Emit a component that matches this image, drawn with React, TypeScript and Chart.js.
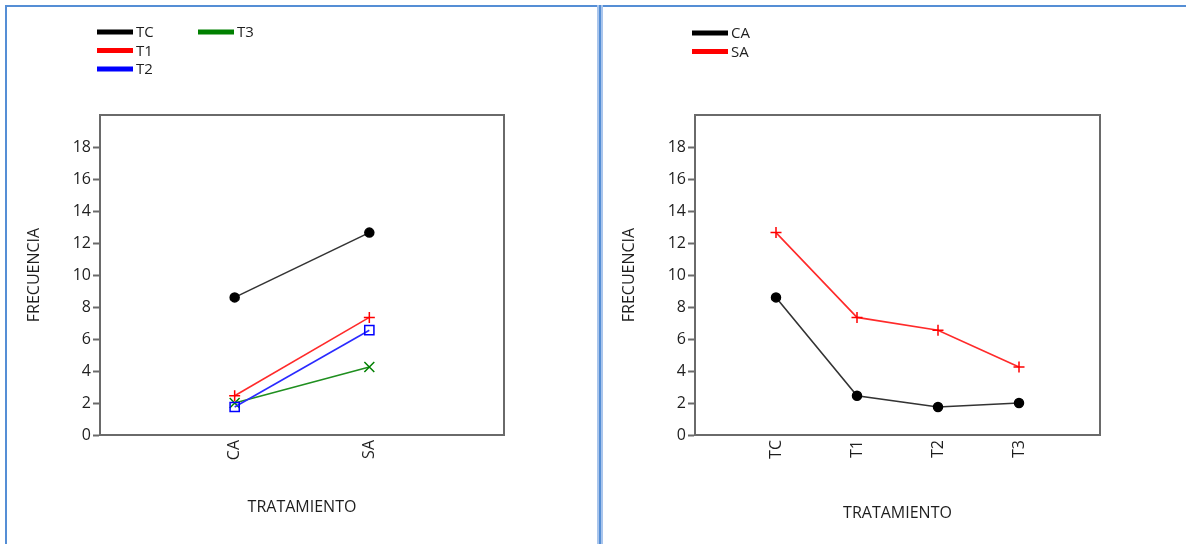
import React, { useEffect, useRef } from 'react';
import { Chart, registerables } from 'chart.js';

Chart.register(...registerables);

// ---------- data ----------
const leftCategories = ['CA', 'SA'];
const leftSeriesNames = ['TC', 'T1', 'T2', 'T3'];
const tcByCondition = [8.6, 12.65];
const t1ByCondition = [2.45, 7.35];
const t2ByCondition = [1.75, 6.55];
const t3ByCondition = [2.0, 4.25];

const rightCategories = ['TC', 'T1', 'T2', 'T3'];
const rightSeriesNames = ['CA', 'SA'];
const caByTreatment = [8.6, 2.45, 1.75, 2.0];
const saByTreatment = [12.65, 7.35, 6.55, 4.25];

const yTickValues = [0, 2, 4, 6, 8, 10, 12, 14, 16, 18];
const yMin = 0;
const yMax = 20;

const yTitle = 'FRECUENCIA';
const xTitle = 'TRATAMIENTO';

// ---------- styles ----------
const FONT = '"Open Sans", "Noto Sans", sans-serif';
const TEXT = '#1e1e1e';
const AXIS = '#6a6a6a';

const legendColorsLeft = ['#000000', '#ff0000', '#0000ff', '#008000'];
const lineColorsLeft = ['#333333', '#ff2a2a', '#2a2aff', '#1f8f1f'];
const markerStylesLeft = ['circle', 'cross', 'rect', 'crossRot'];
const markerRadiiLeft = [4.5, 5.5, 6.5, 7];
const markerFillsLeft = ['#000000', 'rgba(0,0,0,0)', 'rgba(0,0,0,0)', 'rgba(0,0,0,0)'];

const legendColorsRight = ['#000000', '#ff0000'];
const lineColorsRight = ['#333333', '#ff2a2a'];
const markerStylesRight = ['circle', 'cross'];
const markerRadiiRight = [4.5, 5.5];
const markerFillsRight = ['#000000', 'rgba(0,0,0,0)'];

const panelLegend = {
  id: 'panelLegend',
  afterDraw(chart: any, _args: any, opts: any) {
    const { ctx } = chart;
    ctx.save();
    ctx.font = `15px ${FONT}`;
    ctx.textBaseline = 'middle';
    ctx.textAlign = 'left';
    chart.data.datasets.forEach((ds: any, i: number) => {
      const col = Math.floor(i / opts.rows);
      const row = i % opts.rows;
      const x = opts.x + col * opts.colGap;
      const y = opts.y + row * opts.rowGap;
      ctx.strokeStyle = ds.legendColor;
      ctx.lineWidth = 5;
      ctx.lineCap = 'butt';
      ctx.beginPath();
      ctx.moveTo(x, y);
      ctx.lineTo(x + 36, y);
      ctx.stroke();
      ctx.fillStyle = TEXT;
      ctx.fillText(ds.label, x + 39, y + 1);
    });
    ctx.restore();
  },
};

const boxPlugin = {
  id: 'plotBox',
  beforeDatasetsDraw(chart: any) {
    const { ctx, chartArea } = chart;
    ctx.save();
    ctx.strokeStyle = AXIS;
    ctx.lineWidth = 2;
    ctx.strokeRect(
      chartArea.left,
      chartArea.top,
      chartArea.right - chartArea.left,
      chartArea.bottom - chartArea.top
    );
    ctx.restore();
  },
};

function buildConfig(p: {
  categories: string[];
  names: string[];
  series: number[][];
  legendColors: string[];
  lineColors: string[];
  markerStyles: string[];
  markerRadii: number[];
  markerFills: string[];
  xMax: number;
  yWidth: number;
  xHeight: number;
  padRight: number;
  padTop: number;
  yTitlePad: number;
  xTitlePad: number;
  legend: any;
}) {
  return {
    type: 'line',
    data: {
      datasets: p.names.map((name, i) => ({
        label: name,
        legendColor: p.legendColors[i],
        data: p.series[i].map((v, j) => ({ x: j + 1, y: v })),
        borderColor: p.lineColors[i],
        borderWidth: 1.6,
        pointStyle: p.markerStyles[i],
        pointRadius: p.markerRadii[i],
        pointBackgroundColor: p.markerFills[i],
        pointBorderColor: p.legendColors[i],
        pointBorderWidth: 1.5,
        tension: 0,
        fill: false,
      })),
    },
    options: {
      responsive: false,
      animation: false,
      devicePixelRatio: 1,
      layout: { padding: { left: 0, top: p.padTop, right: p.padRight, bottom: 0 } },
      plugins: {
        legend: { display: false },
        tooltip: { enabled: false },
        panelLegend: p.legend,
      },
      scales: {
        x: {
          type: 'linear',
          min: 0,
          max: p.xMax,
          afterBuildTicks: (scale: any) => {
            scale.ticks = p.categories.map((_, i) => ({ value: i + 1 }));
          },
          afterFit: (scale: any) => {
            scale.height = p.xHeight;
          },
          grid: { display: true, drawOnChartArea: false, drawTicks: false },
          border: { display: true, color: AXIS, width: 2 },
          ticks: {
            autoSkip: false,
            minRotation: 90,
            maxRotation: 90,
            padding: 5,
            color: TEXT,
            font: { family: FONT, size: 16 },
            callback: (v: any) => p.categories[Math.round(v) - 1] ?? '',
          },
          title: {
            display: true,
            text: xTitle,
            color: TEXT,
            font: { family: FONT, size: 16 },
            padding: { top: 0, bottom: p.xTitlePad },
          },
        },
        y: {
          type: 'linear',
          min: yMin,
          max: yMax,
          afterBuildTicks: (scale: any) => {
            scale.ticks = yTickValues.map((v) => ({ value: v }));
          },
          afterFit: (scale: any) => {
            scale.width = p.yWidth;
          },
          grid: {
            display: true,
            drawOnChartArea: false,
            drawTicks: true,
            tickLength: 7,
            tickWidth: 2,
            tickColor: AXIS,
          },
          border: { display: true, color: AXIS, width: 2 },
          ticks: {
            padding: 2,
            color: TEXT,
            font: { family: FONT, size: 16 },
            callback: (v: any) => String(v),
          },
          title: {
            display: true,
            text: yTitle,
            color: TEXT,
            font: { family: FONT, size: 16 },
            padding: { top: p.yTitlePad, bottom: 0 },
          },
        },
      },
    },
    plugins: [boxPlugin, panelLegend],
  } as any;
}

function Panel(props: { left: number; width: number; config: any }) {
  const ref = useRef<HTMLCanvasElement | null>(null);
  useEffect(() => {
    if (!ref.current) return;
    const chart = new Chart(ref.current, props.config);
    return () => chart.destroy();
  }, []);
  return (
    <canvas
      ref={ref}
      width={props.width}
      height={544}
      style={{ position: 'absolute', left: props.left, top: 0, width: props.width, height: 544 }}
    />
  );
}

const BLUE = '#558ed5';
const LIGHT_BLUE = '#a9c5ec';

export default function App() {
  const leftConfig = buildConfig({
    categories: leftCategories,
    names: leftSeriesNames,
    series: [tcByCondition, t1ByCondition, t2ByCondition, t3ByCondition],
    legendColors: legendColorsLeft,
    lineColors: lineColorsLeft,
    markerStyles: markerStylesLeft,
    markerRadii: markerRadiiLeft,
    markerFills: markerFillsLeft,
    xMax: leftCategories.length + 1,
    yWidth: 100,
    xHeight: 109,
    padRight: 93,
    padTop: 115,
    yTitlePad: 25,
    xTitlePad: 27,
    legend: { x: 97, y: 32, rows: 3, colGap: 101, rowGap: 18.5 },
  });
  const rightConfig = buildConfig({
    categories: rightCategories,
    names: rightSeriesNames,
    series: [caByTreatment, saByTreatment],
    legendColors: legendColorsRight,
    lineColors: lineColorsRight,
    markerStyles: markerStylesRight,
    markerRadii: markerRadiiRight,
    markerFills: markerFillsRight,
    xMax: rightCategories.length + 1,
    yWidth: 92,
    xHeight: 109,
    padRight: 86,
    padTop: 115,
    yTitlePad: 17,
    xTitlePad: 21,
    legend: { x: 89, y: 33, rows: 2, colGap: 100, rowGap: 18.5 },
  });

  return (
    <div
      style={{
        position: 'absolute',
        left: 0,
        top: 0,
        width: 1186,
        height: 544,
        overflow: 'hidden',
        background: '#ffffff',
      }}
    >
      <div style={{ position: 'absolute', left: 5, top: 5, width: 1181, height: 2, background: BLUE }} />
      <div style={{ position: 'absolute', left: 5, top: 5, width: 2, height: 539, background: BLUE }} />
      <div style={{ position: 'absolute', left: 597, top: 5, width: 6, height: 539, background: LIGHT_BLUE }} />
      <div style={{ position: 'absolute', left: 599, top: 5, width: 2, height: 539, background: BLUE }} />
      <Panel left={0} width={597} config={leftConfig} />
      <Panel left={603} width={583} config={rightConfig} />
    </div>
  );
}
